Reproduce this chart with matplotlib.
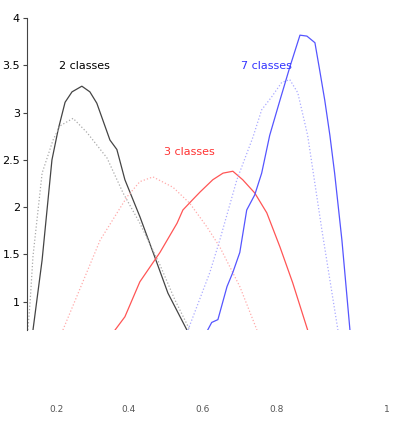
import numpy as np
import matplotlib.pyplot as plt

# courbes (x, y)
x_2c = [0.126, 0.151, 0.178, 0.195, 0.214, 0.233, 0.260, 0.282, 0.301, 0.337, 0.356, 0.378, 0.419, 0.463, 0.496, 0.548]
y_2c = [0.70, 1.44, 2.50, 2.82, 3.11, 3.22, 3.28, 3.22, 3.10, 2.71, 2.61, 2.29, 1.90, 1.44, 1.09, 0.70]

x_2c_ref = [0.112, 0.118, 0.126, 0.151, 0.181, 0.200, 0.236, 0.274, 0.329, 0.373, 0.419, 0.474, 0.515, 0.556]
y_2c_ref = [0.70, 0.99, 1.48, 2.36, 2.71, 2.86, 2.94, 2.79, 2.52, 2.15, 1.83, 1.39, 1.02, 0.70]

x_3c = [0.351, 0.378, 0.419, 0.474, 0.521, 0.537, 0.564, 0.584, 0.619, 0.647, 0.674, 0.701, 0.734, 0.767, 0.803, 0.838, 0.879]
y_3c = [0.70, 0.84, 1.21, 1.52, 1.83, 1.97, 2.08, 2.16, 2.29, 2.36, 2.38, 2.29, 2.15, 1.94, 1.58, 1.20, 0.70]

x_3c_ref = [0.208, 0.310, 0.384, 0.419, 0.455, 0.510, 0.556, 0.603, 0.638, 0.693, 0.740]
y_3c_ref = [0.70, 1.65, 2.11, 2.27, 2.32, 2.21, 2.04, 1.79, 1.58, 1.16, 0.70]

x_7c = [0.605, 0.616, 0.633, 0.658, 0.674, 0.693, 0.712, 0.734, 0.753, 0.775, 0.803, 0.830,
        0.858, 0.877, 0.899, 0.912, 0.926, 0.940, 0.953, 0.973, 0.995]
y_7c = [0.70, 0.78, 0.81, 1.16, 1.31, 1.52, 1.97, 2.13, 2.36, 2.76, 3.13, 3.48,
        3.82, 3.81, 3.74, 3.45, 3.13, 2.76, 2.36, 1.65, 0.70]

x_7c_ref = [0.551, 0.611, 0.638, 0.685, 0.729, 0.753, 0.781, 0.808, 0.830, 0.852, 0.879, 0.918, 0.962]
y_7c_ref = [0.70, 1.31, 1.65, 2.29, 2.74, 3.03, 3.17, 3.32, 3.35, 3.21, 2.76, 1.76, 0.70]

yticks = [1, 1.5, 2, 2.5, 3, 3.5, 4]
ytick_labels = ['1', '1.5', '2', '2.5', '3', '3.5', '4']
xlabels = ['0.2', '0.4', '0.6', '0.8', '1']

fig = plt.figure(figsize=(4.03, 4.22), dpi=100)
ax = fig.add_axes([0.067, 0.218, 0.90, 0.739])

ax.plot(x_2c, y_2c, color='#444444', lw=0.9)
ax.plot(x_2c_ref, y_2c_ref, color='#aaaaaa', lw=0.9, ls=':')
ax.plot(x_3c, y_3c, color='#ff5555', lw=0.9)
ax.plot(x_3c_ref, y_3c_ref, color='#ffaaaa', lw=0.9, ls=':')
ax.plot(x_7c, y_7c, color='#5555ff', lw=0.9)
ax.plot(x_7c_ref, y_7c_ref, color='#aaaaff', lw=0.9, ls=':')

ax.text(0.268, 3.49, '2 classes', color='black', fontsize=8, ha='center', va='center')
ax.text(0.556, 2.58, '3 classes', color='#ff3333', fontsize=8, ha='center', va='center')
ax.text(0.767, 3.49, '7 classes', color='#3333ff', fontsize=8, ha='center', va='center')

ax.set_xlim(0.1096, 1.104)
ax.set_ylim(0.7, 4)
ax.set_yticks(yticks)
ax.set_yticklabels(ytick_labels, fontsize=8)
ax.set_xticks([])
for s in ['top', 'right', 'bottom']:
    ax.spines[s].set_visible(False)
ax.spines['left'].set_color('#444444')
ax.spines['left'].set_linewidth(0.8)
ax.tick_params(axis='y', direction='out', length=3, width=0.8, color='#444444', pad=2)

# étiquettes du bas (à moitié effacées sur l'original)
for lab, px in zip(xlabels, [56, 129, 203, 277, 387]):
    fig.text(px / 403, 1 - 410 / 422, lab, fontsize=6.5, color='#555555', ha='center', va='center')

plt.savefig('out.png', dpi=100)
